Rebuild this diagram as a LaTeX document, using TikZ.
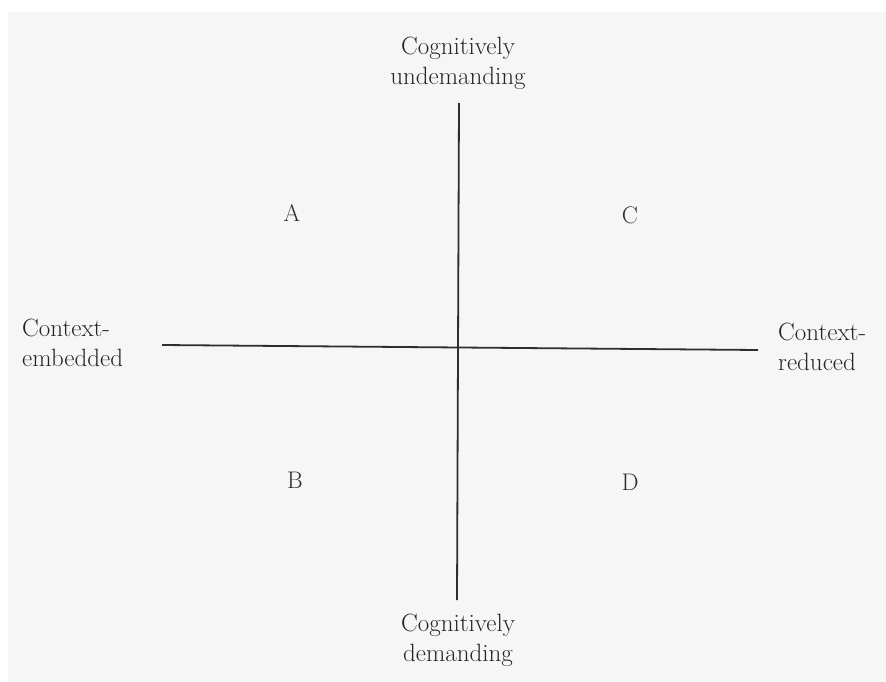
\documentclass[tikz,border=0pt]{standalone}
\begin{document}
\begin{tikzpicture}[x=1pt,y=-1pt,
  lbl/.style={text=black!85, font=\fontsize{25}{30}\selectfont, inner sep=0pt, align=center},
  letter/.style={text=black!82, font=\fontsize{24}{28}\selectfont, inner sep=0pt},
  axis/.style={draw=black!82, line width=1.8pt}]
\useasboundingbox (0,0) rectangle (886,682);
\fill[white] (0,0) rectangle (886,682);
\fill[black!3.5] (8,12) rectangle (886,682);
% axes end points
\coordinate (vtop) at (459,103);
\coordinate (vbot) at (457,600);
\coordinate (hleft) at (162,345);
\coordinate (hright) at (758,350);
\draw[axis] (vtop) -- (vbot);
\draw[axis] (hleft) -- (hright);
% labels
\node[lbl] (top) at (458,63) {Cognitively\\undemanding};
\node[lbl] (bot) at (458,640) {Cognitively\\demanding};
\node[lbl, align=left, anchor=west] (left) at (22,343) {Context-\\embedded};
\node[lbl, align=left, anchor=west] (right) at (778,347) {Context-\\reduced};
\node[letter] (A) at (292,213) {A};
\node[letter] (C) at (630,215) {C};
\node[letter] (B) at (295,480) {B};
\node[letter] (D) at (630,482) {D};
\end{tikzpicture}
\end{document}
